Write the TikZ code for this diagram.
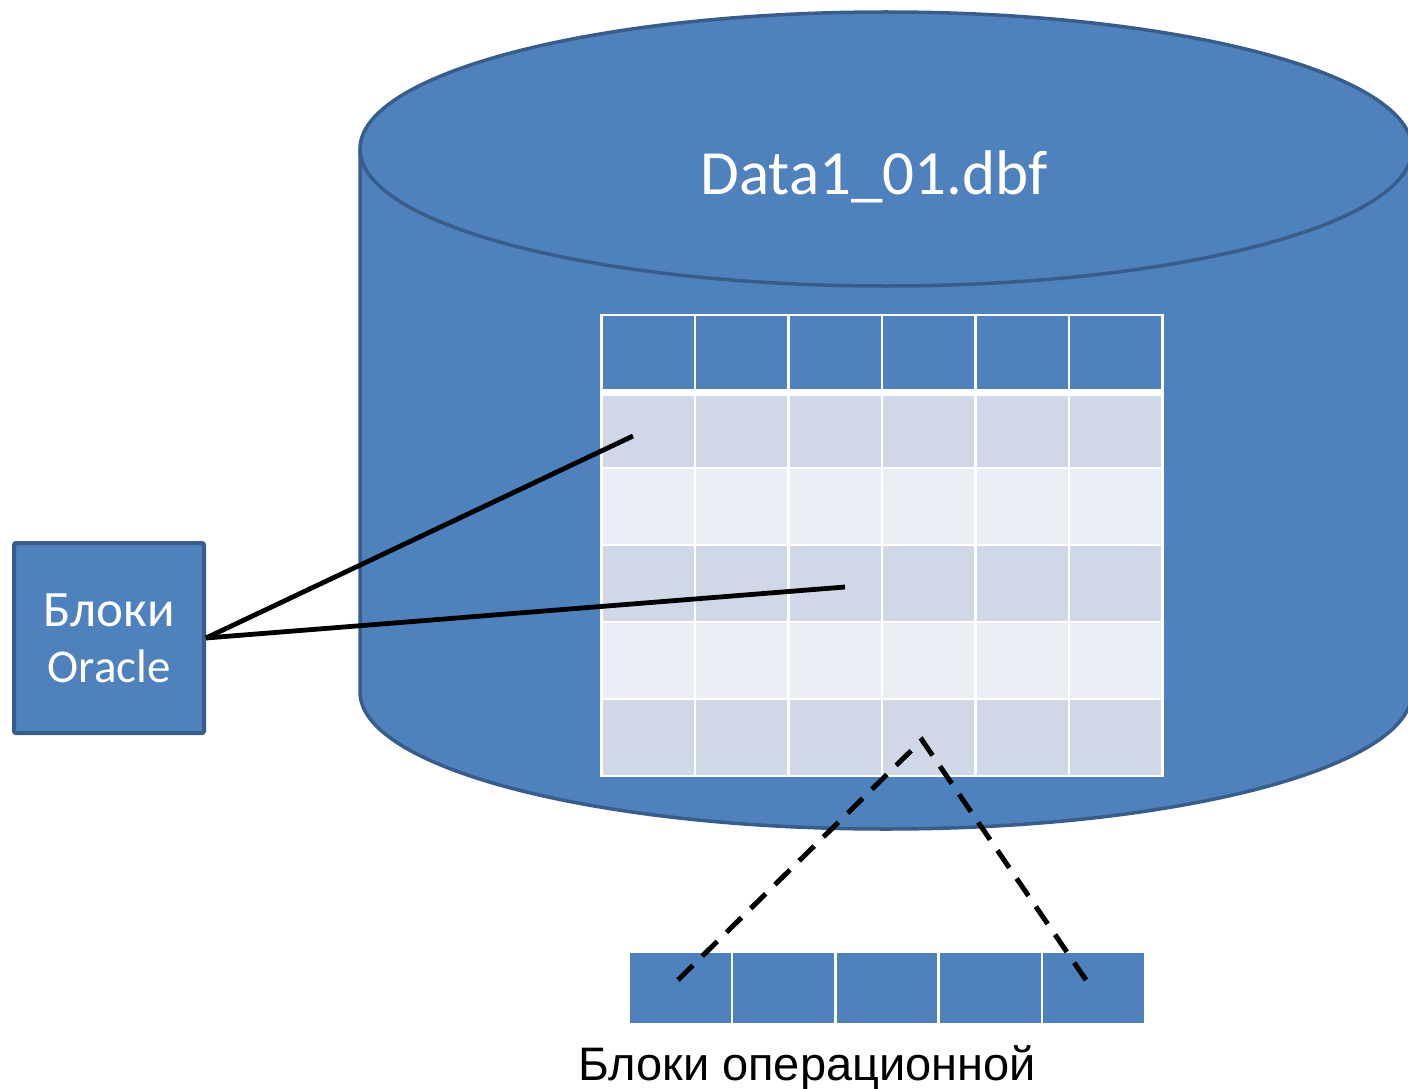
\documentclass[tikz,border=0pt]{standalone}
\usepackage{fontspec}
\setmainfont{Carlito}
\newfontfamily\arialf{Liberation Sans}
\definecolor{cylfill}{HTML}{4F81BD}
\definecolor{cylline}{HTML}{385D8A}
\definecolor{rowA}{HTML}{D0D8E8}
\definecolor{rowB}{HTML}{E9EDF4}
\tikzset{
  cylstroke/.style={draw=cylline, line width=3.5},
  cellgrid/.style={draw=white, line width=2.5},
  stripcell/.style={fill=cylfill, draw=white, line width=2.5, minimum width=103.2, minimum height=72, inner sep=0, outer sep=0},
  solidlink/.style={draw=black, line width=4.8},
  dashlink/.style={draw=black, line width=5, dash pattern=on 21 off 13},
}
\begin{document}
\begin{tikzpicture}[x=1pt,y=-1pt]
\useasboundingbox (0,0) rectangle (1408,1089);
\clip (0,0) rectangle (1408,1089);
% cylinder
\fill[cylfill] (360,149) -- (360,692) arc[start angle=180,end angle=0,x radius=526,y radius=137] -- (1412,149) -- cycle;
\draw[cylstroke] (360,149) -- (360,692) arc[start angle=180,end angle=0,x radius=526,y radius=137] -- (1412,149);
\draw[cylstroke, fill=cylfill] (886,149) ellipse[x radius=526,y radius=137];
\node[text=white, font=\fontsize{63}{63}\selectfont, anchor=base] (title) at (874,194) {Data1\_01.dbf};
% table
\fill[cylfill] (601.5,315) rectangle (1162.5,389);
\fill[rowA] (601.5,395) rectangle (1162.5,468);
\fill[rowB] (601.5,468) rectangle (1162.5,545);
\fill[rowA] (601.5,545) rectangle (1162.5,622);
\fill[rowB] (601.5,622) rectangle (1162.5,699);
\fill[rowA] (601.5,699) rectangle (1162.5,776);
\foreach \i in {1,...,5} {
  \draw[cellgrid] ({601.5+93.5*\i},315) -- ({601.5+93.5*\i},776);
}
\foreach \yy in {468,545,622,699} {
  \draw[cellgrid] (601.5,\yy) -- (1162.5,\yy);
}
\fill[white] (601.5,388.5) rectangle (1162.5,395.5);
\draw[cellgrid] (601.5,315) rectangle (1162.5,776);
% Oracle blocks box
\node[draw=cylline, line width=4, fill=cylfill, rounded corners=2, minimum width=190, minimum height=190, text=white, align=center, font=\fontsize{51}{56}\selectfont] (oracle) at (109,638) {Блоки\\{\fontsize{47}{56}\selectfont Oracle}};
% OS block strip
\node[stripcell] (s1) at (680.6,988) {};
\node[stripcell] (s2) at (783.8,988) {};
\node[stripcell] (s3) at (887,988) {};
\node[stripcell] (s4) at (990.2,988) {};
\node[stripcell] (s5) at (1093.4,988) {};
\node[font=\arialf\fontsize{47}{47}\selectfont, anchor=base] (caption) at (807,1080) {Блоки операционной};
% connectors
\coordinate (p1) at (633,436);
\coordinate (p2) at (845,587);
\coordinate (apex) at (922,740);
\coordinate (q1) at (678,980);
\coordinate (q2) at (1086,980);
\draw[solidlink] (oracle.east) -- (p1);
\draw[solidlink] (oracle.east) -- (p2);
\draw[dashlink] (q1) -- (apex) -- (q2);
\end{tikzpicture}
\end{document}
